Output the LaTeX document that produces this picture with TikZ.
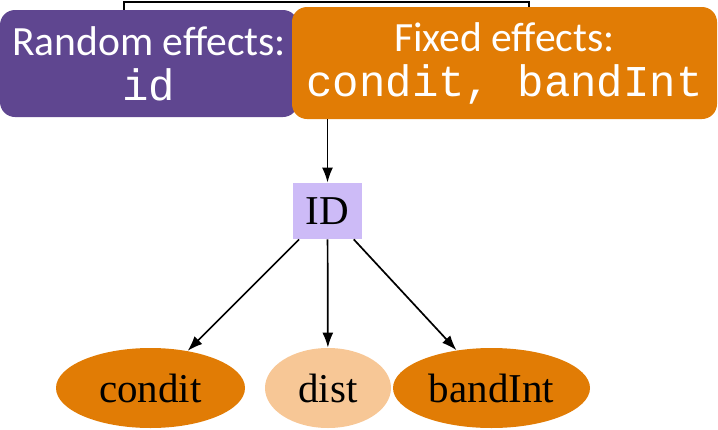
\documentclass[tikz,border=0pt]{standalone}
\usepackage{fontspec}
\setmainfont{Liberation Serif}
\setsansfont{Carlito}
\setmonofont{Liberation Mono}
\usetikzlibrary{shapes.geometric,arrows.meta}
\definecolor{randpurple}{RGB}{95,70,144}
\definecolor{fixorange}{RGB}{225,124,5}
\definecolor{lightorange}{RGB}{247,199,150}
\definecolor{idlavender}{RGB}{205,187,247}

\begin{document}
\begin{tikzpicture}[x=0.5pt, y=-0.5pt,
    effbox/.style={rounded corners=7.5pt, text=white, align=center, inner sep=0pt, font=\sffamily\fontsize{20.8}{23.5}\selectfont},
    var/.style={ellipse, inner sep=0pt, minimum height=40pt, font=\fontsize{20.5}{24}\selectfont},
    conn/.style={-{Latex[length=7.5pt,width=5.5pt]}, line width=0.85pt}
]
\useasboundingbox (0,0) rectangle (718,429);

\node[effbox, fill=randpurple, minimum width=149pt, minimum height=53.5pt] (rand) at (149,63.5)
    {Random effects:\\[-1pt]{\ttfamily\fontsize{22}{24}\selectfont id}};
\node[effbox, fill=fixorange, minimum width=212.5pt, minimum height=56pt] (fixd) at (504.5,63)
    {Fixed effects:\\[-1pt]{\ttfamily\fontsize{22}{24}\selectfont condit, bandInt}};

\coordinate (top) at (0,1.5);
\draw[line width=1pt] ([xshift=-12.5pt]rand.north) -- ([xshift=-12.5pt]rand.north |- top) -| ([xshift=12.25pt]fixd.north);

\node[fill=idlavender, minimum width=34.5pt, minimum height=28pt, inner sep=0pt, font=\fontsize{20.5}{24}\selectfont] (id) at (327.5,211) {ID};

\node[var, fill=fixorange, minimum width=94.5pt] (condit) at (150.5,388) {condit};
\node[var, fill=lightorange, minimum width=63pt] (dist) at (328,388) {dist};
\node[var, fill=fixorange, minimum width=98.5pt] (bandint) at (491.5,388) {bandInt};

\draw[conn] (id |- fixd.south) -- (id);
\draw[conn] (id) -- (condit);
\draw[conn] (id) -- (dist);
\draw[conn] (id) -- (bandint);

\end{tikzpicture}
\end{document}
